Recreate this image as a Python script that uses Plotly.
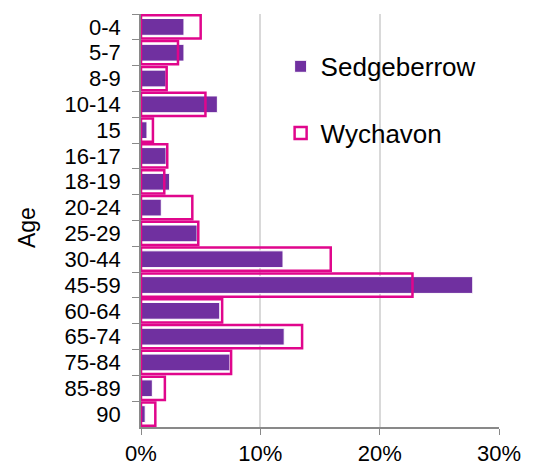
import plotly.graph_objects as go

# age bands, top to bottom
age_bands = ['0-4', '5-7', '8-9', '10-14', '15', '16-17', '18-19', '20-24',
             '25-29', '30-44', '45-59', '60-64', '65-74', '75-84', '85-89', '90']

# share of population (%)
sedgeberrow = [3.6, 3.6, 2.1, 6.4, 0.5, 2.1, 2.4, 1.7,
               4.7, 11.9, 27.8, 6.6, 12.0, 7.45, 0.95, 0.35]
wychavon = [5.0, 3.1, 2.15, 5.4, 1.0, 2.2, 1.95, 4.3,
            4.8, 15.9, 22.75, 6.8, 13.5, 7.55, 2.0, 1.2]

PURPLE = '#7030A0'
MAGENTA = '#E0068C'
AXIS_GREY = '#898989'
FONT = 'Liberation Sans, Arial, sans-serif'

fig = go.Figure()

fig.add_trace(go.Bar(
    name='Sedgeberrow',
    x=[v / 100 for v in sedgeberrow],
    y=age_bands,
    orientation='h',
    width=0.65,
    marker=dict(color=PURPLE, line=dict(color='white', width=1)),
    legendgroup='a',
))

# outline only, drawn on top of the filled bars
fig.add_trace(go.Bar(
    name='Wychavon',
    x=[v / 100 for v in wychavon],
    y=age_bands,
    orientation='h',
    width=0.9,
    marker=dict(color='rgba(0,0,0,0)', line=dict(color=MAGENTA, width=2.5)),
    legendgroup='b',
))

# page body adds an 8px offset, so the figure is 8px smaller on each side
fig.update_layout(
    width=532, height=456,
    barmode='overlay',
    plot_bgcolor='white',
    paper_bgcolor='white',
    font=dict(family=FONT, size=22, color='#000000'),
    margin=dict(l=133, r=41, t=6, b=37),
    showlegend=True,
    legend=dict(
        x=0.39, y=0.93, xanchor='left', yanchor='top',
        font=dict(size=26),
        tracegroupgap=30,
        bgcolor='rgba(0,0,0,0)',
    ),
    annotations=[dict(
        text='Age', textangle=-90,
        xref='paper', yref='paper',
        x=-0.318, y=0.482, xanchor='center', yanchor='middle',
        showarrow=False, font=dict(size=23),
    )],
)

fig.update_xaxes(
    range=[0, 0.3],
    tickvals=[0, 0.1, 0.2, 0.3],
    tickformat='.0%',
    showgrid=True, gridcolor='#D9D9D9', gridwidth=1.5,
    showline=True, linecolor=AXIS_GREY, linewidth=1.5,
    ticks='outside', ticklen=6, tickcolor=AXIS_GREY,
    ticklabelstandoff=0,
    zeroline=False,
    automargin=False,
)

fig.update_yaxes(
    range=[15.5, -0.5],
    type='category',
    tickmode='linear', tick0=0, dtick=1,
    showgrid=False,
    showline=True, linecolor=AXIS_GREY, linewidth=1.5,
    ticks='outside', ticklen=7, tickcolor=AXIS_GREY,
    tickson='boundaries',
    ticklabelstandoff=14,
    automargin=False,
)

fig.write_html("out.html")
